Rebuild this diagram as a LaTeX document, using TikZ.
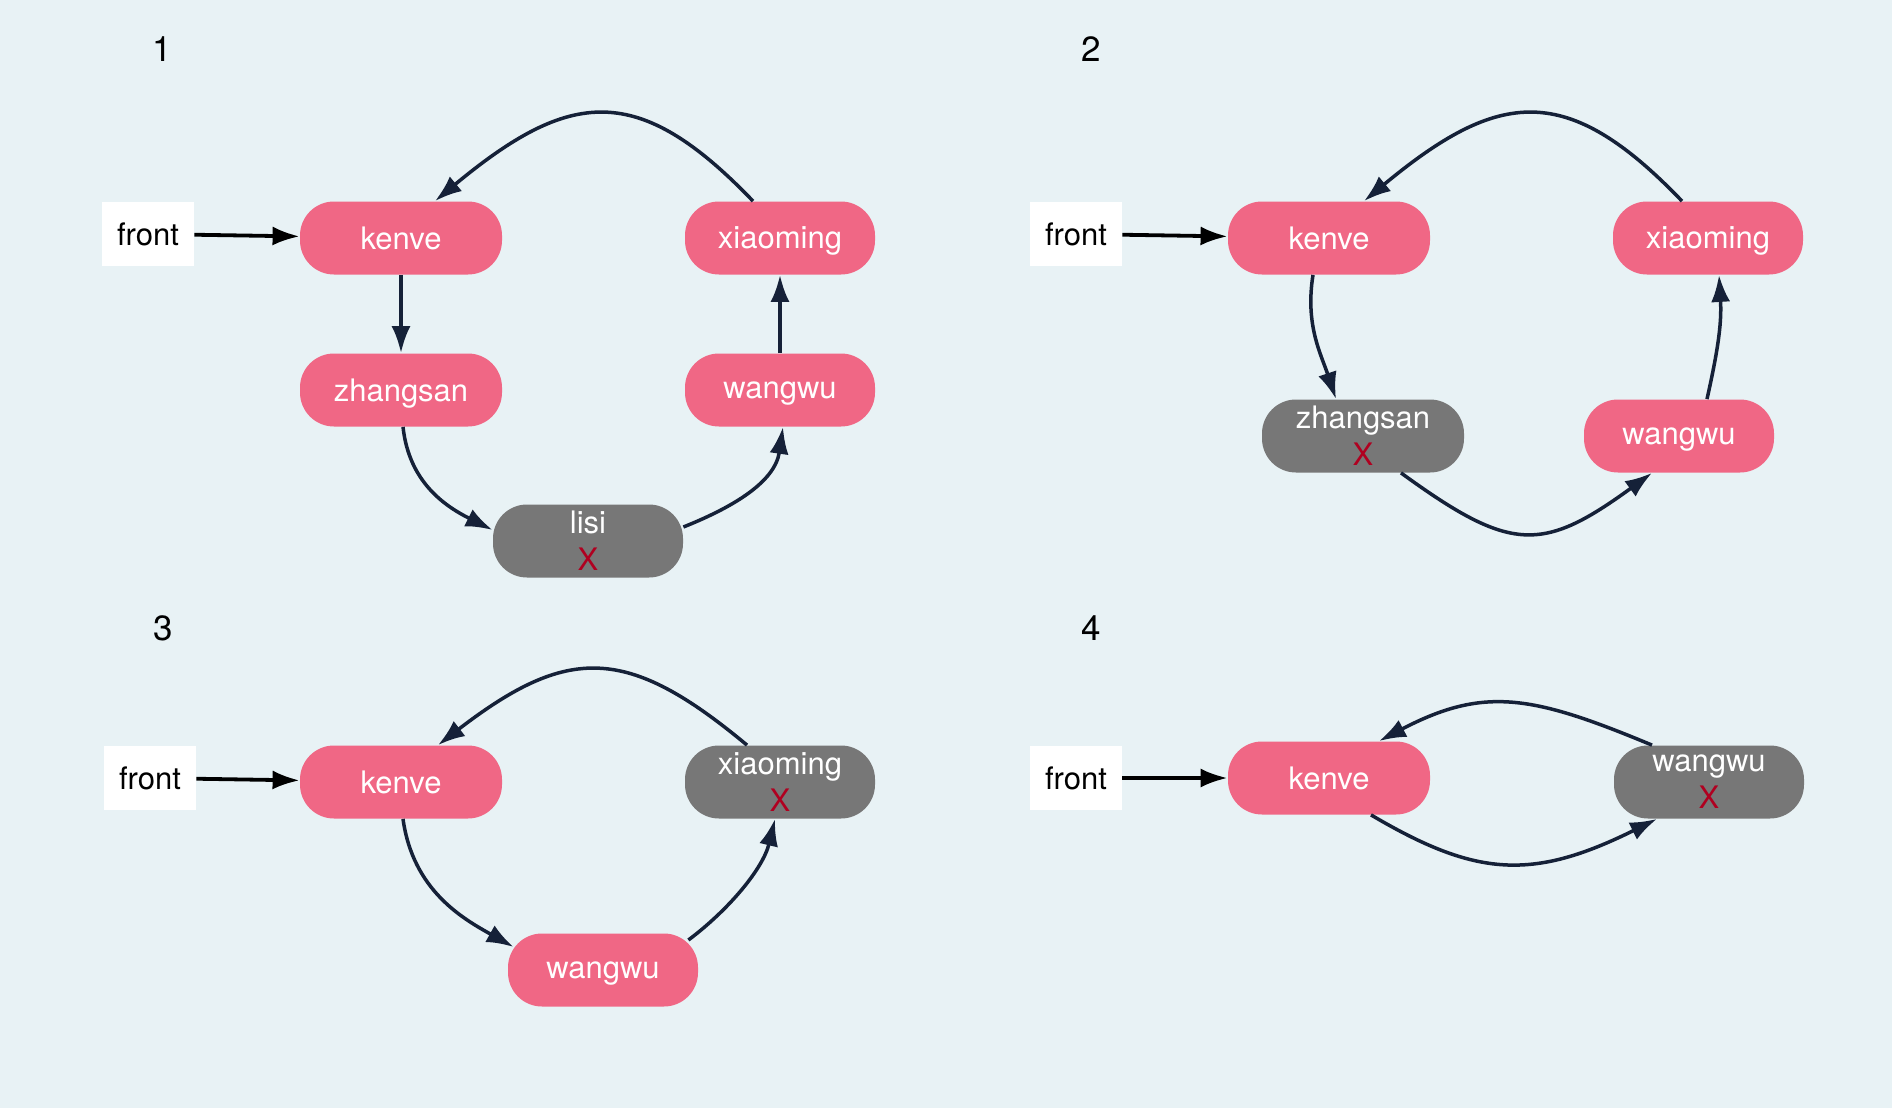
\documentclass[tikz,border=0pt]{standalone}
\usepackage{fontspec}
\setmainfont{TeX Gyre Heros}
\usetikzlibrary{positioning,arrows.meta}
\definecolor{bgblue}{RGB}{232,242,245}
\definecolor{pinknode}{RGB}{240,103,133}
\definecolor{graynode}{RGB}{119,119,119}
\definecolor{navyline}{RGB}{21,33,56}
\definecolor{xred}{RGB}{176,0,32}

\tikzset{
    item/.style={rounded corners=17pt, minimum height=36.5pt, inner sep=0pt, text=white, align=center, text depth=0pt, font=\fontsize{15.5}{18.5}\selectfont},
    alive/.style={item, fill=pinknode},
    gone/.style={item, fill=graynode},
    wide/.style={minimum width=101pt},
    narrow/.style={minimum width=95pt},
    frontbox/.style={fill=white, minimum width=46pt, minimum height=32pt, inner sep=0pt, font=\fontsize{15.5}{18.5}\selectfont},
    link/.style={draw=navyline, line width=1.75pt, -{Latex[length=13.5pt,width=9.5pt]}},
    enter/.style={draw=black, line width=1.9pt, -{Latex[length=13.5pt,width=9.5pt]}},
    stepnum/.style={font=\fontsize{17.5}{20}\selectfont}
}

\begin{document}
\begin{tikzpicture}[x=0.5pt, y=-0.5pt]
    \fill[bgblue] (0,0) rectangle (1892,1108);

    % 1
    \node[stepnum] (n1) at (162,49) {1};
    \node[alive, wide] (k1) at (401,238) {kenve};
    \node[frontbox] (f1) at (148,234) {front};
    \node[alive, narrow] (x1) at (780,238) {xiaoming};
    \node[alive, wide] (z1) at (401,390) {zhangsan};
    \node[alive, narrow] (w1) at (780,390) {wangwu};
    \node[gone, narrow] (l1) at (588,541) {lisi\\\textcolor{xred}{X}};

    \draw[enter] (f1) -- (k1);
    \draw[link] ([xshift=-13.5pt]x1.north) .. controls +(-115,-120) and +(135,-112) .. ([xshift=17pt]k1.north);
    \draw[link] (k1) -- (z1);
    \draw[link] ([xshift=1pt]z1.south) .. controls +(6,55) and +(-48,-24) .. ([yshift=5.5pt]l1.west);
    \draw[link] ([yshift=7pt]l1.east) .. controls +(50,-20) and +(-8,55) .. ([xshift=1.5pt]w1.south);
    \draw[link] (w1) -- (x1);

    % 2
    \node[stepnum] (n2) at (1091,49) {2};
    \node[alive, wide] (k2) at (1329,238) {kenve};
    \node[frontbox] (f2) at (1076,234) {front};
    \node[alive, narrow] (x2) at (1708,238) {xiaoming};
    \node[gone, wide] (z2) at (1363,436) {zhangsan\\\textcolor{xred}{X}};
    \node[alive, narrow] (w2) at (1679,436) {wangwu};

    \draw[enter] (f2) -- (k2);
    \draw[link] ([xshift=-13pt]x2.north) .. controls +(-115,-120) and +(135,-112) .. ([xshift=17.5pt]k2.north);
    \draw[link] ([xshift=-8pt]k2.south) .. controls +(-8,50) and +(-15,-45) .. ([xshift=-13.5pt]z2.north);
    \draw[link] ([xshift=19pt]z2.south) .. controls +(110,80) and +(-110,80) .. ([xshift=-13.5pt]w2.south);
    \draw[link] ([xshift=14pt]w2.north) .. controls +(10,-45) and +(3,50) .. ([xshift=5.5pt]x2.south);

    % 3
    \node[stepnum] (n3) at (163,628) {3};
    \node[alive, wide] (k3) at (401,782) {kenve};
    \node[frontbox] (f3) at (150,778) {front};
    \node[gone, narrow] (x3) at (780,782) {xiaoming\\\textcolor{xred}{X}};
    \node[alive, narrow] (w3) at (603,970) {wangwu};

    \draw[enter] (f3) -- (k3);
    \draw[link] ([xshift=-16.5pt]x3.north) .. controls +(-120,-100) and +(130,-100) .. ([xshift=18.5pt]k3.north);
    \draw[link] ([xshift=1pt]k3.south) .. controls +(10,72) and +(-50,-28) .. ([xshift=3pt,yshift=11.5pt]w3.west);
    \draw[link] ([xshift=-5pt,yshift=15pt]w3.east) .. controls +(40,-30) and +(-12,50) .. ([xshift=-2.5pt]x3.south);

    % 4
    \node[stepnum] (n4) at (1091,628) {4};
    \node[alive, wide] (k4) at (1329,778) {kenve};
    \node[frontbox] (f4) at (1076,778) {front};
    \node[gone, narrow] (w4) at (1709,782) {wangwu\\\textcolor{xred}{X}};

    \draw[enter] (f4) -- (k4);
    \draw[link] ([xshift=-28.5pt]w4.north) .. controls +(-120,-50) and +(105,-55) .. ([xshift=25pt]k4.north);
    \draw[link] ([xshift=21pt]k4.south) .. controls +(105,62) and +(-125,62) .. ([xshift=-26pt]w4.south);
\end{tikzpicture}
\end{document}
